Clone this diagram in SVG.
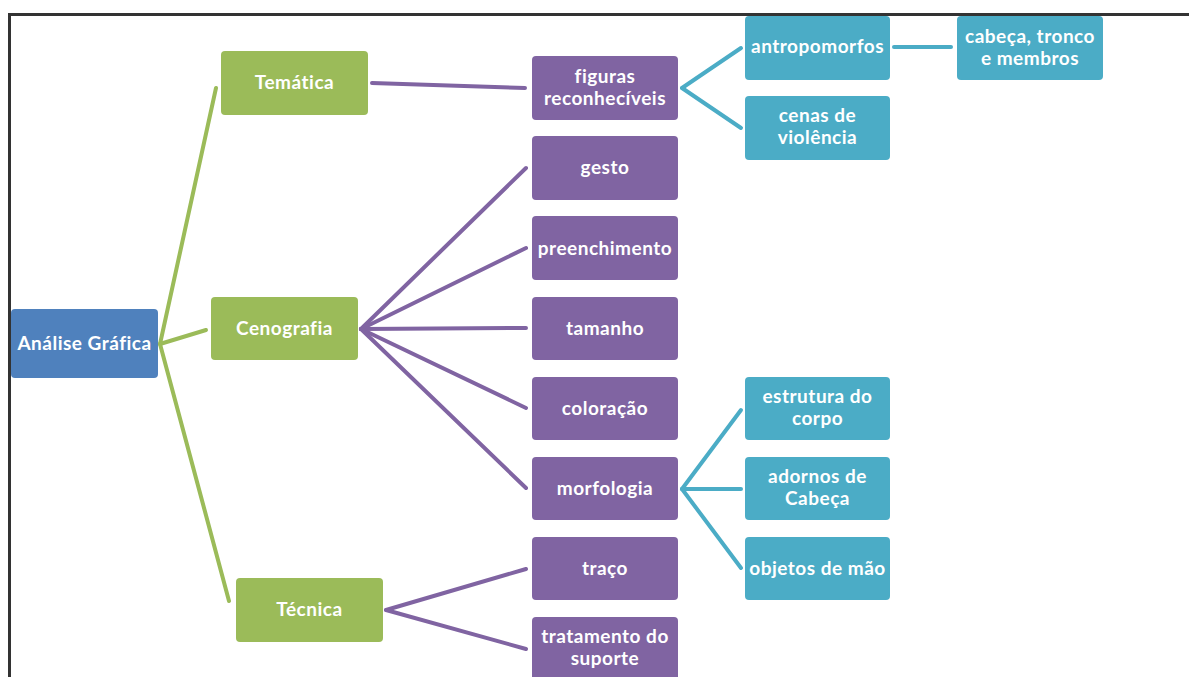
<svg xmlns="http://www.w3.org/2000/svg" width="1189" height="677" viewBox="0 0 1189 677">
<style>
.n rect{rx:4;ry:4}
.blue rect{fill:#4F81BD}
.green rect{fill:#9BBB59}
.purple rect{fill:#8064A2}
.teal rect{fill:#4BACC6}
text{font-family:Lato,"Open Sans","Liberation Sans",sans-serif;font-weight:bold;font-size:19px;letter-spacing:0.5px;fill:#fff;text-anchor:middle}
.cg{stroke:#9BBB59;stroke-width:4;fill:none;stroke-linecap:round}
.cp{stroke:#8064A2;stroke-width:4;fill:none;stroke-linecap:round}
.ct{stroke:#4BACC6;stroke-width:4;fill:none;stroke-linecap:round}
</style>
<rect width="1189" height="677" fill="#fff"/>
<path d="M9.5,677 V14.5 H1189" fill="none" stroke="#333" stroke-width="3"/>
<g id="connectors">
<path class="cg" d="M160,344 L216,88"/>
<path class="cg" d="M160,344 L206,330"/>
<path class="cg" d="M160,344 L229,601"/>
<path class="cp" d="M372,83 L525,88"/>
<path class="cp" d="M361,329 L526,168"/>
<path class="cp" d="M361,329 L526,248"/>
<path class="cp" d="M361,329 L526,328"/>
<path class="cp" d="M361,329 L526,408"/>
<path class="cp" d="M361,329 L526,488"/>
<path class="cp" d="M386,610 L526,569"/>
<path class="cp" d="M386,610 L526,649"/>
<path class="ct" d="M682,88 L741,48"/>
<path class="ct" d="M682,88 L741,128"/>
<path class="ct" d="M894,47 L951,47"/>
<path class="ct" d="M682,489 L741,410"/>
<path class="ct" d="M682,489 L741,489"/>
<path class="ct" d="M682,489 L741,568"/>
</g>
<g id="n-analise" class="n blue"><rect x="11" y="309" width="147" height="69"/><text x="84.5" y="350">Análise Gráfica</text></g>
<g id="n-tematica" class="n green"><rect x="221" y="51" width="147" height="64"/><text x="294.5" y="89">Temática</text></g>
<g id="n-cenografia" class="n green"><rect x="211" y="297" width="147" height="63"/><text x="284.5" y="335">Cenografia</text></g>
<g id="n-tecnica" class="n green"><rect x="236" y="578" width="147" height="64"/><text x="309.5" y="616">Técnica</text></g>
<g id="n-figuras" class="n purple"><rect x="532" y="56" width="146" height="64"/><text x="605" y="83">figuras</text><text x="605" y="105">reconhecíveis</text></g>
<g id="n-gesto" class="n purple"><rect x="532" y="136" width="146" height="64"/><text x="605" y="174">gesto</text></g>
<g id="n-preenchimento" class="n purple"><rect x="532" y="216" width="146" height="64"/><text x="605" y="255">preenchimento</text></g>
<g id="n-tamanho" class="n purple"><rect x="532" y="297" width="146" height="63"/><text x="605" y="335">tamanho</text></g>
<g id="n-coloracao" class="n purple"><rect x="532" y="377" width="146" height="63"/><text x="605" y="415">coloração</text></g>
<g id="n-morfologia" class="n purple"><rect x="532" y="457" width="146" height="63"/><text x="605" y="495">morfologia</text></g>
<g id="n-traco" class="n purple"><rect x="532" y="537" width="146" height="63"/><text x="605" y="575">traço</text></g>
<g id="n-tratamento" class="n purple"><rect x="532" y="617" width="146" height="64"/><text x="605" y="643">tratamento do</text><text x="605" y="665">suporte</text></g>
<g id="n-antropomorfos" class="n teal"><rect x="745" y="16" width="145" height="64"/><text x="817.5" y="53">antropomorfos</text></g>
<g id="n-cenas" class="n teal"><rect x="745" y="96" width="145" height="64"/><text x="817.5" y="122">cenas de</text><text x="817.5" y="144">violência</text></g>
<g id="n-cabeca" class="n teal"><rect x="957" y="16" width="146" height="64"/><text x="1030" y="43">cabeça, tronco</text><text x="1030" y="65">e membros</text></g>
<g id="n-estrutura" class="n teal"><rect x="745" y="377" width="145" height="63"/><text x="817.5" y="403">estrutura do</text><text x="817.5" y="425">corpo</text></g>
<g id="n-adornos" class="n teal"><rect x="745" y="457" width="145" height="63"/><text x="817.5" y="483">adornos de</text><text x="817.5" y="505">Cabeça</text></g>
<g id="n-objetos" class="n teal"><rect x="745" y="537" width="145" height="63"/><text x="817.5" y="575">objetos de mão</text></g>
</svg>
